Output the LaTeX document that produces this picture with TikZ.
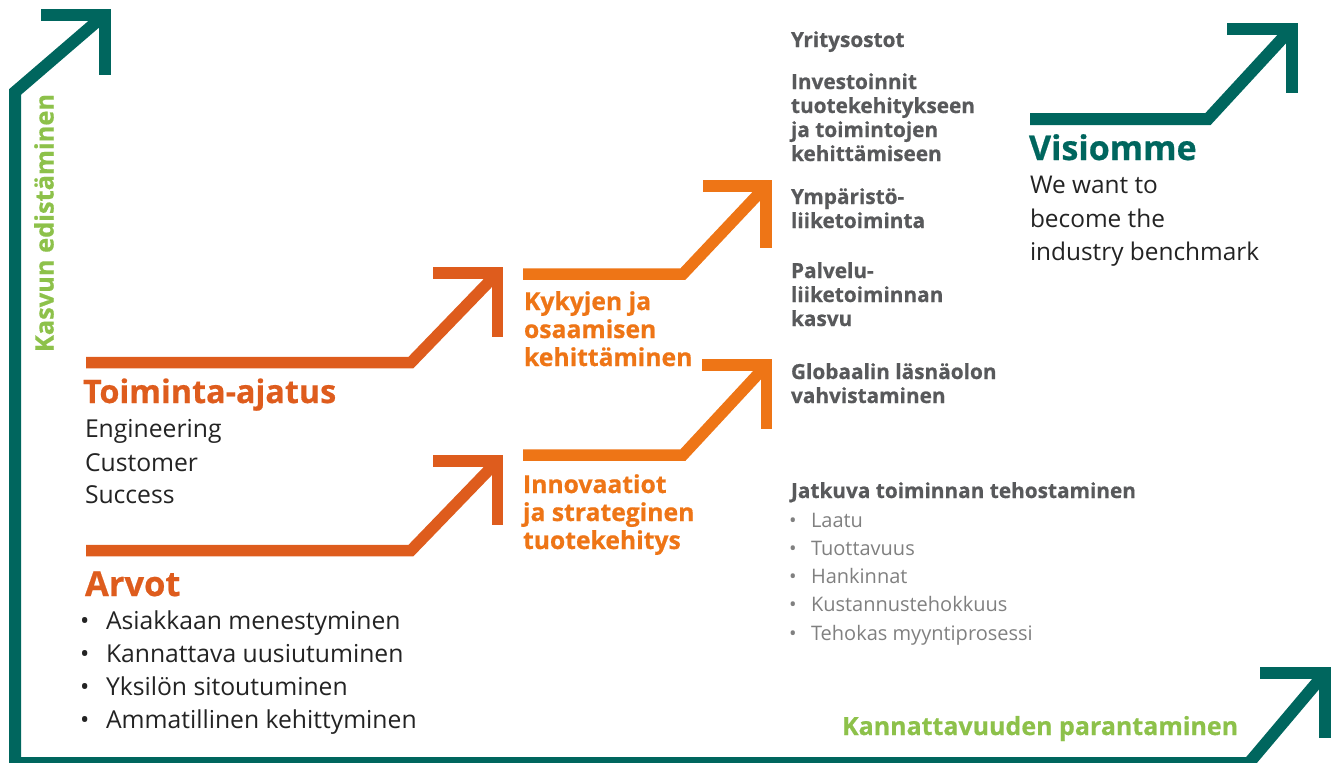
\documentclass[tikz,border=0pt]{standalone}
\usepackage{fontspec}
\setmainfont{Open Sans}[BoldFeatures={FakeBold=0.6}]
\definecolor{tealc}{RGB}{0,102,94}
\definecolor{greenc}{RGB}{141,193,74}
\definecolor{orangeD}{RGB}{222,92,29}
\definecolor{orangeL}{RGB}{238,117,22}
\definecolor{greyB}{RGB}{88,89,91}
\definecolor{greyL}{RGB}{128,128,128}
\definecolor{blackL}{RGB}{35,35,35}
\tikzset{
  tealline/.style={draw=tealc, line width=12pt, line join=miter},
  orDline/.style={draw=orangeD, line width=11.5pt, line join=miter},
  orLline/.style={draw=orangeL, line width=11.5pt, line join=miter},
  txt/.style={anchor=base west, inner sep=0pt, outer sep=0pt},
  orDhead/.style={font=\fontsize{32.3}{37}\selectfont\bfseries, text=orangeD},
  blk/.style={font=\fontsize{24.7}{29}\selectfont, text=blackL},
  orLtxt/.style={font=\fontsize{24.7}{29}\selectfont\bfseries, text=orangeL},
  gB/.style={font=\fontsize{20.8}{24}\selectfont\bfseries, text=greyB},
  gL/.style={font=\fontsize{20}{24}\selectfont, text=greyL},
  vis/.style={font=\fontsize{24.4}{30}\selectfont, text=blackL},
  grn/.style={font=\fontsize{25.4}{28}\selectfont\bfseries, text=greenc},
}
\begin{document}
\begin{tikzpicture}[x=1pt,y=-1pt]
\useasboundingbox (0,0) rectangle (1334,763);
% frame
\coordinate (fbr) at (1325,673);
\coordinate (fb1) at (1249,763);
\coordinate (fbl) at (15,763);
\coordinate (ftl1) at (15,92);
\coordinate (ftl) at (104.5,15);
\draw[tealline] (fbr) -- (fb1) -- (fbl) -- (ftl1) -- (ftl);
\draw[tealline] (41,15) -- (ftl) -- (104.5,75);
\draw[tealline] (1260,673) -- (fbr) -- (1325,738);
% vision arrow
\coordinate (v0) at (1030,119);
\coordinate (v1) at (1208,119);
\coordinate (v2) at (1291.5,28.5);
\draw[tealline] (v0) -- (v1) -- (v2);
\draw[tealline] (1227,28.5) -- (v2) -- (1291.5,93);
% orange arrows
\coordinate (a0) at (86,362.5);
\coordinate (a1) at (411,362.5);
\coordinate (a2) at (497.5,273);
\draw[orDline] (a0) -- (a1) -- (a2);
\draw[orDline] (433,273) -- (a2) -- (497.5,337);
\coordinate (b0) at (86,550.5);
\coordinate (b1) at (411,550.5);
\coordinate (b2) at (497.5,461);
\draw[orDline] (b0) -- (b1) -- (b2);
\draw[orDline] (433,461) -- (b2) -- (497.5,525);
\coordinate (c0) at (523,274);
\coordinate (c1) at (683,274);
\coordinate (c2) at (766,186);
\draw[orLline] (c0) -- (c1) -- (c2);
\draw[orLline] (703,186) -- (c2) -- (766,248);
\coordinate (d0) at (523,455);
\coordinate (d1) at (683,455);
\coordinate (d2) at (766.5,365);
\draw[orLline] (d0) -- (d1) -- (d2);
\draw[orLline] (702,365) -- (d2) -- (766.5,429);
% side labels
\node[grn, rotate=90, inner sep=0pt] (kasvu) at (44,223) {Kasvun edistäminen};
\node[grn, txt, font=\fontsize{25}{28}\selectfont\bfseries] (kann) at (842,735) {Kannattavuuden parantaminen};
% left texts
\node[txt, orDhead] (toim) at (83,403) {Toiminta-ajatus};
\node[txt, blk] (eng) at (85,437) {Engineering};
\node[txt, blk] (cus) at (85,471) {Customer};
\node[txt, blk] (suc) at (85,503) {Success};
\node[txt, orDhead, font=\fontsize{34.5}{38}\selectfont\bfseries] (arvot) at (85,596) {Arvot};
\foreach \t [count=\i] in {Asiakkaan menestyminen, Kannattava uusiutuminen, Yksilön sitoutuminen, Ammatillinen kehittyminen}{
  \node[txt, blk] (ab\i) at (80,{629+33*(\i-1)}) {•};
  \node[txt, blk] (at\i) at (106,{629+33*(\i-1)}) {\t};
}
% orange middle texts
\node[txt, orLtxt] (k1) at (524,310) {Kykyjen ja};
\node[txt, orLtxt] (k2) at (524,338) {osaamisen};
\node[txt, orLtxt] (k3) at (524,366) {kehittäminen};
\node[txt, orLtxt] (i1) at (523,493) {Innovaatiot};
\node[txt, orLtxt] (i2) at (523,521) {ja strateginen};
\node[txt, orLtxt] (i3) at (523,549) {tuotekehitys};
% grey bold texts
\node[txt, gB] (g1) at (791,47) {Yritysostot};
\node[txt, gB] (g2) at (791,89) {Investoinnit};
\node[txt, gB] (g3) at (791,113) {tuotekehitykseen};
\node[txt, gB] (g4) at (791,137) {ja toimintojen};
\node[txt, gB] (g5) at (791,161) {kehittämiseen};
\node[txt, gB] (g6) at (791,204) {Ympäristö-};
\node[txt, gB] (g7) at (791,228) {liiketoiminta};
\node[txt, gB] (g8) at (791,278) {Palvelu-};
\node[txt, gB] (g9) at (791,302) {liiketoiminnan};
\node[txt, gB] (g10) at (791,326) {kasvu};
\node[txt, gB] (g11) at (791,379) {Globaalin läsnäolon};
\node[txt, gB] (g12) at (791,403) {vahvistaminen};
\node[txt, gB] (g13) at (791,498) {Jatkuva toiminnan tehostaminen};
\foreach \t [count=\i] in {Laatu, Tuottavuus, Hankinnat, Kustannustehokkuus, Tehokas myyntiprosessi}{
  \node[txt, gL] (lb\i) at (789,{527+28.3*(\i-1)}) {•};
  \node[txt, gL] (lt\i) at (811,{527+28.3*(\i-1)}) {\t};
}
% vision texts
\node[txt, font=\fontsize{34}{40}\selectfont\bfseries, text=tealc] (visio) at (1029,160) {Visiomme};
\node[txt, vis] (w1) at (1030,193) {We want to};
\node[txt, vis] (w2) at (1030,227) {become the};
\node[txt, vis] (w3) at (1030,260) {industry benchmark};
\end{tikzpicture}
\end{document}
